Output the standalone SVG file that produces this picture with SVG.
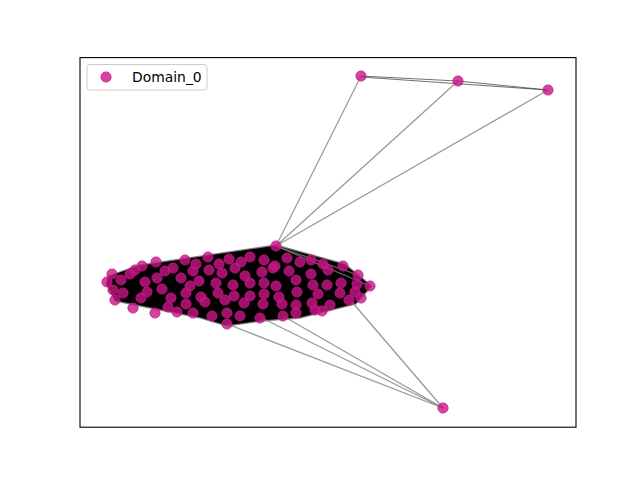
<svg xmlns="http://www.w3.org/2000/svg" width="640" height="480" viewBox="0 0 640 480">
<style>
.n{fill:#C71585;fill-opacity:0.8;stroke:#C71585;stroke-opacity:0.8;stroke-width:1}
.e{stroke:#808080;stroke-opacity:0.8;stroke-width:1.3;fill:none}
.ed{stroke:#333;stroke-opacity:0.7;stroke-width:1;fill:none}
.t{font-family:"DejaVu Sans",sans-serif;font-size:13.9px;fill:#000}
</style>
<rect width="640" height="480" fill="#fff"/>
<g id="edges">
<polygon points="108,276 140,265 276,245 345,264 372,286 356,304 300,318 262,321 227,326 200,318 115,301 106,284" fill="#000"/>
<polyline class="e" points="108,276 140,265 276,245 345,264 372,286"/>
<polyline class="e" points="115,301 200,318 227,326 262,321 300,318 356,304 372,286"/>
<line class="e" x1="276" y1="246" x2="361" y2="76"/>
<line class="e" x1="276" y1="246" x2="458" y2="81"/>
<line class="e" x1="276" y1="246" x2="548" y2="90"/>
<line class="ed" x1="361" y1="76" x2="458" y2="81"/>
<line class="ed" x1="361" y1="77" x2="548" y2="90"/>
<line class="ed" x1="458" y1="81" x2="548" y2="90"/>
<line class="e" x1="443" y1="408" x2="227" y2="324"/>
<line class="e" x1="443" y1="408" x2="262" y2="318"/>
<line class="e" x1="443" y1="408" x2="283" y2="316"/>
<line class="e" x1="443" y1="408" x2="352" y2="302"/>
<line class="e" x1="276" y1="246" x2="370" y2="286"/>
<line class="e" x1="276" y1="246" x2="358" y2="275"/>
</g>
<g id="nodes">
<g id="n0"><circle class="n" cx="276" cy="246" r="5.1"/></g>
<g id="n1"><circle class="n" cx="361" cy="76" r="5.1"/></g>
<g id="n2"><circle class="n" cx="458" cy="81" r="5.1"/></g>
<g id="n3"><circle class="n" cx="548" cy="90" r="5.1"/></g>
<g id="n4"><circle class="n" cx="443" cy="408" r="5.1"/></g>
<g id="n5"><circle class="n" cx="370" cy="286" r="5.1"/></g>
<g id="n6"><circle class="n" cx="142" cy="266" r="5.1"/></g>
<g id="n7"><circle class="n" cx="156" cy="262" r="5.1"/></g>
<g id="n8"><circle class="n" cx="173" cy="268" r="5.1"/></g>
<g id="n9"><circle class="n" cx="185" cy="260" r="5.1"/></g>
<g id="n10"><circle class="n" cx="196" cy="264" r="5.1"/></g>
<g id="n11"><circle class="n" cx="208" cy="257" r="5.1"/></g>
<g id="n12"><circle class="n" cx="219" cy="264" r="5.1"/></g>
<g id="n13"><circle class="n" cx="229" cy="259" r="5.1"/></g>
<g id="n14"><circle class="n" cx="241" cy="262" r="5.1"/></g>
<g id="n15"><circle class="n" cx="250" cy="257" r="5.1"/></g>
<g id="n16"><circle class="n" cx="264" cy="260" r="5.1"/></g>
<g id="n17"><circle class="n" cx="275" cy="266" r="5.1"/></g>
<g id="n18"><circle class="n" cx="287" cy="258" r="5.1"/></g>
<g id="n19"><circle class="n" cx="300" cy="262" r="5.1"/></g>
<g id="n20"><circle class="n" cx="311" cy="260" r="5.1"/></g>
<g id="n21"><circle class="n" cx="323" cy="264" r="5.1"/></g>
<g id="n22"><circle class="n" cx="343" cy="266" r="5.1"/></g>
<g id="n23"><circle class="n" cx="112" cy="274" r="5.1"/></g>
<g id="n24"><circle class="n" cx="130" cy="274" r="5.1"/></g>
<g id="n25"><circle class="n" cx="135" cy="270" r="5.1"/></g>
<g id="n26"><circle class="n" cx="165" cy="271" r="5.1"/></g>
<g id="n27"><circle class="n" cx="193" cy="271" r="5.1"/></g>
<g id="n28"><circle class="n" cx="209" cy="270" r="5.1"/></g>
<g id="n29"><circle class="n" cx="222" cy="273" r="5.1"/></g>
<g id="n30"><circle class="n" cx="235" cy="268" r="5.1"/></g>
<g id="n31"><circle class="n" cx="262" cy="272" r="5.1"/></g>
<g id="n32"><circle class="n" cx="273" cy="268" r="5.1"/></g>
<g id="n33"><circle class="n" cx="289" cy="271" r="5.1"/></g>
<g id="n34"><circle class="n" cx="311" cy="274" r="5.1"/></g>
<g id="n35"><circle class="n" cx="328" cy="270" r="5.1"/></g>
<g id="n36"><circle class="n" cx="358" cy="275" r="5.1"/></g>
<g id="n37"><circle class="n" cx="107" cy="282" r="5.1"/></g>
<g id="n38"><circle class="n" cx="121" cy="280" r="5.1"/></g>
<g id="n39"><circle class="n" cx="145" cy="282" r="5.1"/></g>
<g id="n40"><circle class="n" cx="157" cy="278" r="5.1"/></g>
<g id="n41"><circle class="n" cx="181" cy="278" r="5.1"/></g>
<g id="n42"><circle class="n" cx="199" cy="281" r="5.1"/></g>
<g id="n43"><circle class="n" cx="216" cy="283" r="5.1"/></g>
<g id="n44"><circle class="n" cx="233" cy="285" r="5.1"/></g>
<g id="n45"><circle class="n" cx="250" cy="283" r="5.1"/></g>
<g id="n46"><circle class="n" cx="264" cy="283" r="5.1"/></g>
<g id="n47"><circle class="n" cx="276" cy="286" r="5.1"/></g>
<g id="n48"><circle class="n" cx="296" cy="280" r="5.1"/></g>
<g id="n49"><circle class="n" cx="313" cy="285" r="5.1"/></g>
<g id="n50"><circle class="n" cx="327" cy="285" r="5.1"/></g>
<g id="n51"><circle class="n" cx="341" cy="283" r="5.1"/></g>
<g id="n52"><circle class="n" cx="357" cy="284" r="5.1"/></g>
<g id="n53"><circle class="n" cx="113" cy="290" r="5.1"/></g>
<g id="n54"><circle class="n" cx="123" cy="293" r="5.1"/></g>
<g id="n55"><circle class="n" cx="147" cy="292" r="5.1"/></g>
<g id="n56"><circle class="n" cx="162" cy="289" r="5.1"/></g>
<g id="n57"><circle class="n" cx="186" cy="293" r="5.1"/></g>
<g id="n58"><circle class="n" cx="201" cy="297" r="5.1"/></g>
<g id="n59"><circle class="n" cx="218" cy="293" r="5.1"/></g>
<g id="n60"><circle class="n" cx="234" cy="296" r="5.1"/></g>
<g id="n61"><circle class="n" cx="250" cy="296" r="5.1"/></g>
<g id="n62"><circle class="n" cx="264" cy="294" r="5.1"/></g>
<g id="n63"><circle class="n" cx="279" cy="297" r="5.1"/></g>
<g id="n64"><circle class="n" cx="297" cy="292" r="5.1"/></g>
<g id="n65"><circle class="n" cx="318" cy="294" r="5.1"/></g>
<g id="n66"><circle class="n" cx="340" cy="293" r="5.1"/></g>
<g id="n67"><circle class="n" cx="355" cy="292" r="5.1"/></g>
<g id="n68"><circle class="n" cx="115" cy="300" r="5.1"/></g>
<g id="n69"><circle class="n" cx="133" cy="308" r="5.1"/></g>
<g id="n70"><circle class="n" cx="141" cy="298" r="5.1"/></g>
<g id="n71"><circle class="n" cx="171" cy="298" r="5.1"/></g>
<g id="n72"><circle class="n" cx="186" cy="304" r="5.1"/></g>
<g id="n73"><circle class="n" cx="205" cy="302" r="5.1"/></g>
<g id="n74"><circle class="n" cx="225" cy="300" r="5.1"/></g>
<g id="n75"><circle class="n" cx="244" cy="303" r="5.1"/></g>
<g id="n76"><circle class="n" cx="263" cy="304" r="5.1"/></g>
<g id="n77"><circle class="n" cx="282" cy="304" r="5.1"/></g>
<g id="n78"><circle class="n" cx="296" cy="305" r="5.1"/></g>
<g id="n79"><circle class="n" cx="312" cy="303" r="5.1"/></g>
<g id="n80"><circle class="n" cx="330" cy="305" r="5.1"/></g>
<g id="n81"><circle class="n" cx="349" cy="300" r="5.1"/></g>
<g id="n82"><circle class="n" cx="361" cy="298" r="5.1"/></g>
<g id="n83"><circle class="n" cx="155" cy="313" r="5.1"/></g>
<g id="n84"><circle class="n" cx="177" cy="312" r="5.1"/></g>
<g id="n85"><circle class="n" cx="193" cy="313" r="5.1"/></g>
<g id="n86"><circle class="n" cx="212" cy="316" r="5.1"/></g>
<g id="n87"><circle class="n" cx="227" cy="313" r="5.1"/></g>
<g id="n88"><circle class="n" cx="240" cy="316" r="5.1"/></g>
<g id="n89"><circle class="n" cx="260" cy="318" r="5.1"/></g>
<g id="n90"><circle class="n" cx="283" cy="316" r="5.1"/></g>
<g id="n91"><circle class="n" cx="296" cy="313" r="5.1"/></g>
<g id="n92"><circle class="n" cx="315" cy="310" r="5.1"/></g>
<g id="n93"><circle class="n" cx="322" cy="311" r="5.1"/></g>
<g id="n94"><circle class="n" cx="227" cy="324" r="5.1"/></g>
<g id="n95"><circle class="n" cx="168" cy="307" r="5.1"/></g>
<g id="n96"><circle class="n" cx="190" cy="286" r="5.1"/></g>
<g id="n97"><circle class="n" cx="245" cy="276" r="5.1"/></g>
</g>
<rect x="80" y="57.6" width="496" height="369.6" fill="none" stroke="#000" stroke-width="1.1"/>
<g id="legend">
<rect x="87" y="64.5" width="120" height="25.5" rx="3" fill="#fff" fill-opacity="0.8" stroke="#ccc" stroke-width="1"/>
<circle class="n" cx="106" cy="77" r="5.1"/>
<text class="t" x="132" y="82">Domain_0</text>
</g>
</svg>
